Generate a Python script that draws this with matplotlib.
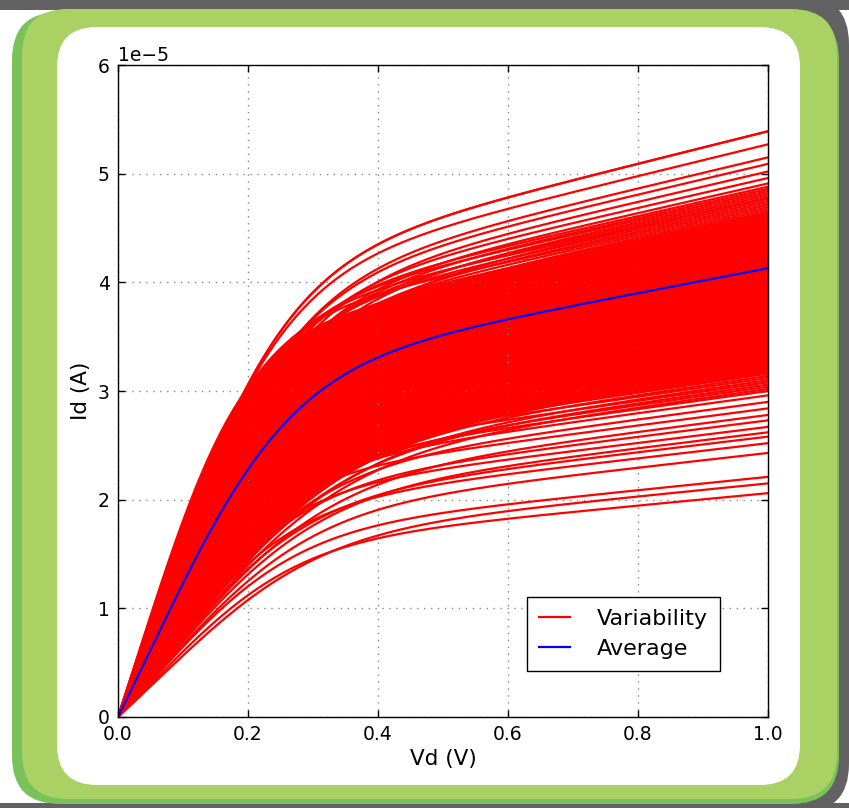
import numpy as np
import matplotlib
matplotlib.use("Agg")
import matplotlib.pyplot as plt
from matplotlib.patches import FancyBboxPatch, Rectangle

# ---------------- data (Id in units of 1e-5 A) ----------------
# Id at Vd = 1.0 V and the knee voltage of every red curve
top_end = [5.39, 5.27, 5.15, 5.09, 5.02, 4.96, 4.91]
top_knee = [0.235, 0.23, 0.245, 0.24, 0.25, 0.235, 0.245]

band_end = [4.88, 4.86, 4.84, 4.82, 4.80, 4.78, 4.77, 4.75, 4.73, 4.71,
            4.69, 4.67, 4.65, 4.63, 4.61, 4.59, 4.57, 4.55, 4.53, 4.51,
            4.49, 4.47, 4.45, 4.43, 4.41, 4.39, 4.37, 4.35, 4.33, 4.31,
            4.29, 4.27, 4.25, 4.23, 4.21, 4.19, 4.17, 4.15, 4.12, 4.10,
            4.08, 4.06, 4.04, 4.02, 4.00, 3.98, 3.96, 3.94, 3.92, 3.90,
            3.88, 3.86, 3.84, 3.82, 3.80, 3.78, 3.76, 3.74, 3.72, 3.70,
            3.68, 3.66, 3.64, 3.62, 3.60, 3.58, 3.56, 3.54, 3.52, 3.50,
            3.48, 3.46, 3.44, 3.42, 3.40, 3.38, 3.36, 3.34, 3.32, 3.30,
            3.28, 3.26, 3.24, 3.22, 3.20, 3.18, 3.16, 3.14, 3.12, 3.10,
            3.08, 3.06, 3.04, 3.02, 3.00]
band_knee = [0.22, 0.24, 0.21, 0.25, 0.23, 0.20, 0.26, 0.22, 0.24, 0.19,
             0.23, 0.26, 0.21, 0.25, 0.22, 0.18, 0.24, 0.26, 0.20, 0.23,
             0.27, 0.21, 0.18, 0.25, 0.22, 0.28, 0.24, 0.19, 0.26, 0.22,
             0.17, 0.27, 0.23, 0.20, 0.28, 0.24, 0.18, 0.25, 0.22, 0.27,
             0.17, 0.26, 0.21, 0.29, 0.23, 0.19, 0.27, 0.16, 0.24, 0.28,
             0.22, 0.17, 0.26, 0.29, 0.20, 0.25, 0.16, 0.28, 0.23, 0.18,
             0.29, 0.24, 0.21, 0.30, 0.17, 0.27, 0.22, 0.29, 0.19, 0.26,
             0.16, 0.30, 0.24, 0.20, 0.30, 0.18, 0.28, 0.23, 0.30, 0.17,
             0.26, 0.31, 0.21, 0.29, 0.18, 0.31, 0.25, 0.30, 0.20, 0.31,
             0.22, 0.30, 0.27, 0.31, 0.24]

low_end = [2.96, 2.90, 2.84, 2.78, 2.73, 2.67, 2.62, 2.58, 2.52, 2.43, 2.21, 2.15, 2.06]
low_knee = [0.24, 0.27, 0.22, 0.29, 0.25, 0.23, 0.28, 0.26, 0.24, 0.27, 0.25, 0.28, 0.25]

avg_end = 4.13
avg_knee = 0.245

x_ticks = [0.0, 0.2, 0.4, 0.6, 0.8, 1.0]
y_ticks = [0, 1, 2, 3, 4, 5, 6]

LAM = 0.383          # channel-length modulation seen in the saturation slope
vd = np.linspace(0.0, 1.0, 301)


def id_curve(i_end, knee):
    x = vd / knee
    g = np.tanh(x ** 1.25) ** 0.8
    return i_end * (1 + LAM * vd) / (1 + LAM) * g * 1e-5


# ---------------- figure ----------------
W, H = 849, 808
fig = plt.figure(figsize=(W / 100, H / 100), dpi=100)
fig.patch.set_facecolor("white")

bg = fig.add_axes([0, 0, 1, 1], zorder=-10)
bg.set_xlim(0, W)
bg.set_ylim(H, 0)
bg.axis("off")


def rbox(x0, y0, x1, y1, r, color):
    bg.add_patch(FancyBboxPatch((x0 + r, y0 + r), (x1 - x0) - 2 * r, (y1 - y0) - 2 * r,
                                boxstyle="round,pad=%g" % r, fc=color, ec="none"))


bg.add_patch(Rectangle((0, 0), W, 9.5, fc="#626262", ec="none"))
bg.add_patch(Rectangle((0, 803), W, 6, fc="#626262", ec="none"))
rbox(400, -4, 849, 812, 48, "#626262")
rbox(12, 12, 839, 804, 48, "#79c259")
rbox(22, 9, 837, 799, 46, "#a9d163")
rbox(57, 27, 800, 785, 40, "white")

ax = fig.add_axes([118 / W, (H - 717) / H, 650 / W, 652 / H])
ax.set_facecolor("white")

# dense core of the band
core = np.array([id_curve(e, k) for e, k in zip(band_end[12:-8], band_knee[12:-8])])
ax.fill_between(vd, core.min(axis=0), core.max(axis=0), color="red", lw=0)

for e, k in zip(band_end, band_knee):
    ax.plot(vd, id_curve(e, k), color="red", lw=1.6)
for e, k in zip(top_end, top_knee):
    ax.plot(vd, id_curve(e, k), color="red", lw=1.6)
for e, k in zip(low_end, low_knee):
    ax.plot(vd, id_curve(e, k), color="red", lw=1.6)
ax.plot(vd, id_curve(top_end[0], top_knee[0]), color="red", lw=1.6, label="Variability")
ax.plot(vd, id_curve(avg_end, avg_knee), color="blue", lw=1.6, label="Average")

ax.set_xlim(0, 1.0)
ax.set_ylim(0, 6e-5)
ax.set_xticks(x_ticks)
ax.set_yticks([v * 1e-5 for v in y_ticks])
ax.ticklabel_format(axis="y", style="sci", scilimits=(0, 0))
ax.yaxis.get_offset_text().set_fontsize(13.5)
ax.tick_params(direction="in", top=True, right=True, length=5, width=1,
               labelsize=13.5, pad=6)
ax.grid(True, linestyle=(0, (1, 4)), color="#888888", linewidth=1.0)
for s in ax.spines.values():
    s.set_linewidth(1.0)

ax.set_xlabel("Vd (V)", fontsize=15.5, labelpad=3)
ax.set_ylabel("Id (A)", fontsize=15.5, labelpad=5)

leg = ax.legend(loc="lower right", bbox_to_anchor=(0.926, 0.0706), borderaxespad=0,
                fontsize=16, fancybox=False, framealpha=1, edgecolor="black",
                handlelength=1.4, handletextpad=1.2, borderpad=0.55, labelspacing=0.45)
leg.get_frame().set_linewidth(1.0)

fig.savefig("out.png", dpi=100)
